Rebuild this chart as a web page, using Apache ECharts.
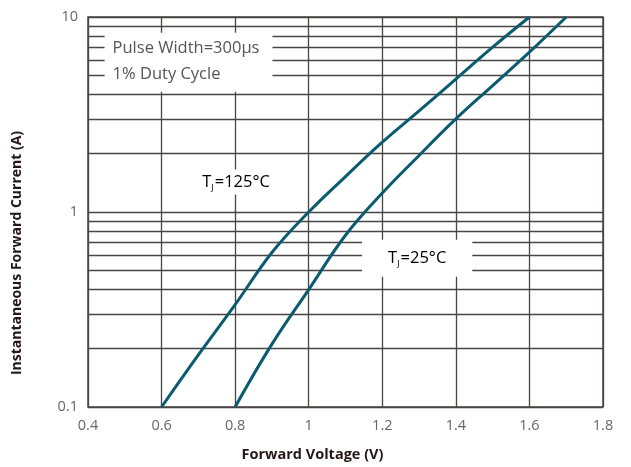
<!DOCTYPE html>
<html>
<head>
<meta charset="utf-8">
<script src="https://cdn.jsdelivr.net/npm/echarts@6/dist/echarts.min.js"></script>
<style>html,body{margin:0;padding:0;background:#fff;}#c{width:631px;height:467px;}</style>
</head>
<body>
<div id="c"></div>
<script>
// Data
const tj125V = [0.6, 0.7, 0.8, 0.9, 1.0, 1.1, 1.2, 1.3, 1.4, 1.5, 1.6];
const tj125I = [0.1, 0.185, 0.335, 0.62, 1.0, 1.52, 2.28, 3.3, 4.8, 7.0, 10];
const tj25V = [0.8, 0.9, 1.0, 1.1, 1.2, 1.3, 1.4, 1.5, 1.6, 1.7];
const tj25I = [0.1, 0.21, 0.4, 0.76, 1.25, 1.95, 3.0, 4.45, 6.6, 10];
const minorGridValues = [0.2, 0.3, 0.4, 0.5, 0.6, 0.7, 0.8, 0.9, 2, 3, 4, 5, 6, 7, 8, 9];
const xAxisTitle = 'Forward Voltage (V)';
const yAxisTitle = 'Instantaneous Forward Current (A)';
const noteLines = ['Pulse Width=300\u03bcs', '1% Duty Cycle'];
const label125 = { v: 0.705, i: 1.65, text: '=125\u00b0C' };
const label25 = { v: 1.145, i: 0.72, text: '=25\u00b0C' };
const noteAnchor = { v: 0.445, i: 8.3 };

const lineColor = '#0b5a70';
const gridColor = '#4a4444';
const fontFam = '"Open Sans", "Noto Sans", sans-serif';

const chart = echarts.init(document.getElementById('c'), null, { renderer: 'canvas' });
const zip = (a, b) => a.map((v, k) => [v, b[k]]);

chart.setOption({
  animation: false,
  backgroundColor: '#fff',
  grid: { left: 88, right: 28, top: 17, bottom: 58, show: true, borderColor: gridColor, borderWidth: 1.5 },
  xAxis: {
    type: 'value', min: 0.4, max: 1.8, interval: 0.2,
    name: xAxisTitle, nameLocation: 'middle', nameGap: 40,
    nameTextStyle: { fontFamily: fontFam, fontWeight: 'bold', fontSize: 14.5, color: '#231815', padding: [0, 66, 0, 0] },
    axisLine: { show: false }, axisTick: { show: false },
    axisLabel: { color: '#666', fontFamily: fontFam, fontSize: 14.5, margin: 11 },
    splitLine: { show: true, lineStyle: { color: gridColor, width: 1.3 } }
  },
  yAxis: {
    type: 'log', logBase: 10, min: 0.1, max: 10,
    name: yAxisTitle, nameLocation: 'middle', nameGap: 64,
    nameTextStyle: { fontFamily: fontFam, fontWeight: 'bold', fontSize: 14, color: '#231815', padding: [0, 82, 0, 0] },
    axisLine: { show: false }, axisTick: { show: false },
    axisLabel: { color: '#666', fontFamily: fontFam, fontSize: 14.5, margin: 10,
      formatter: v => (Math.abs(v - 0.1) < 1e-9 ? '0.1' : String(Math.round(v))) },
    splitLine: { show: true, lineStyle: { color: gridColor, width: 1.3 } }
  },
  series: [
    {
      type: 'line', data: [], silent: true,
      markLine: {
        silent: true, symbol: 'none', label: { show: false },
        lineStyle: { color: gridColor, type: 'solid', width: 1.3 },
        data: minorGridValues.map(v => ({ yAxis: v }))
      }
    },
    {
      name: 'Tj=125', type: 'line', data: zip(tj125V, tj125I), smooth: 0.4,
      showSymbol: false, lineStyle: { color: lineColor, width: 3 }, z: 5
    },
    {
      name: 'Tj=25', type: 'line', data: zip(tj25V, tj25I), smooth: 0.4,
      showSymbol: false, lineStyle: { color: lineColor, width: 3 }, z: 5
    }
  ]
});

function px(v, i) { return chart.convertToPixel({ gridIndex: 0 }, [v, i]); }

const p125 = px(label125.v, label125.i);
const p25 = px(label25.v, label25.i);
const pn = px(noteAnchor.v, noteAnchor.i);

const tjRich = {
  t: { fontSize: 16.5, fontFamily: fontFam, color: '#555' },
  s: { fontSize: 9, fontFamily: fontFam, color: '#555', verticalAlign: 'bottom', padding: [12, 1, 0, 0] }
};

chart.setOption({
  graphic: [
    {
      type: 'text', x: pn[0], y: pn[1], z: 100,
      style: {
        text: noteLines.join('\n'), fontSize: 16.5, fontFamily: fontFam, fill: '#555',
        lineHeight: 26, backgroundColor: '#fff', padding: [3, 13, 4, 8]
      }
    },
    {
      type: 'text', x: p125[0], y: p125[1], z: 100,
      style: {
        rich: tjRich, text: '{t|T}{s|J}{t|' + label125.text + '}',
        backgroundColor: '#fff', padding: [2, 2, 2, 2]
      }
    },
    {
      type: 'text', x: p25[0], y: p25[1], z: 100,
      style: {
        rich: tjRich, text: '{t|T}{s|J}{t|' + label25.text + '}',
        backgroundColor: '#fff', padding: [8, 26, 8, 26]
      }
    }
  ]
});
</script>
</body>
</html>
